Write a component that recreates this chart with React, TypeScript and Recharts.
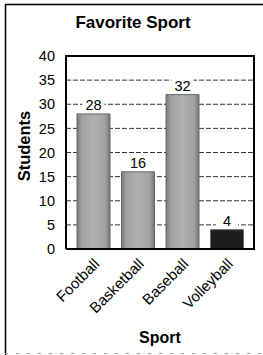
import React from "react";
import { BarChart, Bar, XAxis, YAxis, CartesianGrid, Cell, LabelList, Customized } from "recharts";

const sports = ["Football", "Basketball", "Baseball", "Volleyball"];
const students = [28, 16, 32, 4];
const yTicks = [0, 5, 10, 15, 20, 25, 30, 35, 40];
const title = "Favorite Sport";
const xTitle = "Sport";
const yTitle = "Students";

const barFills = ["url(#grayBar)", "url(#grayBar)", "url(#grayBar)", "#1d1d1d"];

const data = sports.map((s, i) => ({ sport: s, students: students[i] }));

const FONT = "'Liberation Sans', Arial, Helvetica, sans-serif";

const W = 263;
const H = 355;
const MARGIN = { top: 56, right: 9, bottom: 26, left: 0 };
const Y_AXIS_W = 66;
const X_AXIS_H = 80;

const PLOT_L = MARGIN.left + Y_AXIS_W;
const PLOT_T = MARGIN.top;
const PLOT_R = W - MARGIN.right;
const PLOT_B = H - MARGIN.bottom - X_AXIS_H;

const XTick = (props: any) => {
  const { x, y, payload } = props;
  const ax = x + 7;
  const ay = y + 8;
  return (
    <text
      x={ax}
      y={ay}
      transform={`rotate(-45, ${ax}, ${ay})`}
      textAnchor="end"
      fontSize={15}
      fontFamily={FONT}
      fill="#000"
    >
      {payload.value}
    </text>
  );
};

const ValueLabel = (props: any) => {
  const { x, y, width, value } = props;
  const cx = x + width / 2;
  return (
    <g>
      <rect x={cx - 11} y={y - 16} width={22} height={14} fill="#fff" />
      <text x={cx} y={y - 4} textAnchor="middle" fontSize={14.5} fontFamily={FONT} fill="#000">
        {value}
      </text>
    </g>
  );
};

const Decor = () => (
  <g>
    <line x1={5.5} y1={4} x2={5.5} y2={355} stroke="#000" strokeWidth={1.5} />
    <line x1={5} y1={4.5} x2={263} y2={4.5} stroke="#000" strokeWidth={1.5} />
    <line x1={5} y1={353.5} x2={263} y2={353.5} stroke="#999" strokeWidth={1} strokeDasharray="3 8" />
    <line x1={PLOT_L - 1} y1={PLOT_T} x2={PLOT_R + 1} y2={PLOT_T} stroke="#000" strokeWidth={2} />
    <line x1={PLOT_R} y1={PLOT_T - 1} x2={PLOT_R} y2={PLOT_B + 1} stroke="#000" strokeWidth={2} />
    <text x={133} y={28} textAnchor="middle" fontSize={17} fontWeight="bold" fontFamily={FONT} fill="#000">
      {title}
    </text>
    <text x={160} y={343} textAnchor="middle" fontSize={16} fontWeight="bold" fontFamily={FONT} fill="#000">
      {xTitle}
    </text>
    <text
      x={30}
      y={146}
      transform="rotate(-90, 30, 146)"
      textAnchor="middle"
      fontSize={16.5}
      fontWeight="bold"
      fontFamily={FONT}
      fill="#000"
    >
      {yTitle}
    </text>
  </g>
);

export default function App() {
  return (
    <div style={{ position: "absolute", left: 0, top: 0, width: W, height: H, background: "#fff" }}>
      <BarChart width={W} height={H} data={data} margin={MARGIN}>
        <defs>
          <linearGradient id="grayBar" x1="0" y1="0" x2="1" y2="0">
            <stop offset="0%" stopColor="#7a7a7a" />
            <stop offset="15%" stopColor="#a2a2a2" />
            <stop offset="50%" stopColor="#b0b0b0" />
            <stop offset="85%" stopColor="#a2a2a2" />
            <stop offset="100%" stopColor="#777" />
          </linearGradient>
        </defs>
        <CartesianGrid vertical={false} stroke="#333" strokeDasharray="5 2" strokeWidth={1} />
        <XAxis
          dataKey="sport"
          height={X_AXIS_H}
          padding={{ left: 5, right: 5 }}
          axisLine={{ stroke: "#000", strokeWidth: 2 }}
          tickLine={false}
          tick={<XTick />}
          interval={0}
        />
        <YAxis
          width={Y_AXIS_W}
          domain={[0, 40]}
          ticks={yTicks}
          interval={0}
          axisLine={{ stroke: "#000", strokeWidth: 2 }}
          tickLine={false}
          tickMargin={5}
          tick={{ fontSize: 14.5, fill: "#000", fontFamily: FONT }}
        />
        <Bar dataKey="students" barSize={33} isAnimationActive={false} stroke="#666" strokeWidth={1}>
          {data.map((d, i) => (
            <Cell key={d.sport} fill={barFills[i]} />
          ))}
          <LabelList dataKey="students" content={<ValueLabel />} />
        </Bar>
        <Customized component={<Decor />} />
      </BarChart>
    </div>
  );
}
